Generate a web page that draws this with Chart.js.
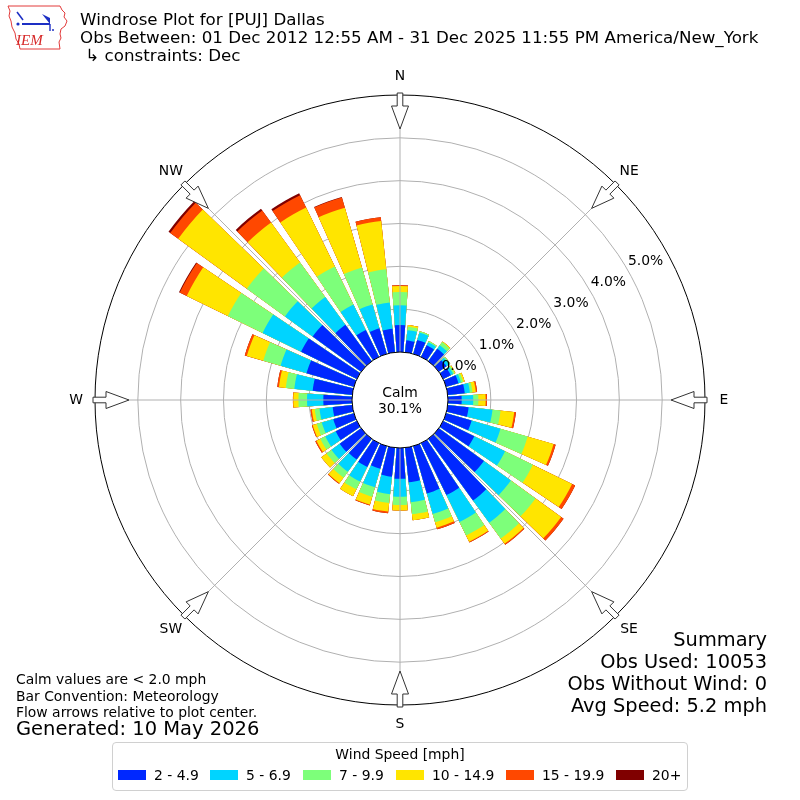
<!DOCTYPE html>
<html>
<head>
<meta charset="utf-8">
<script src="https://cdn.jsdelivr.net/npm/chart.js@4.4.1/dist/chart.umd.min.js"></script>
<style>
  body { margin: 0; background: #fff; }
  #wrap { position: relative; width: 800px; height: 800px; font-family: "DejaVu Sans", sans-serif; color: #000; overflow: hidden; }
  #wrap canvas { position: absolute; left: 0; top: 0; }
  .txt { position: absolute; white-space: pre; }
  #title { left: 80px; top: 10px; font-size: 16.7px; line-height: 18.2px; }
  #notes { left: 16px; top: 671px; font-size: 13.9px; line-height: 16.5px; }
  #generated { left: 16px; top: 717px; font-size: 19.5px; line-height: 23px; }
  #summary { right: 33px; top: 629px; font-size: 19.4px; line-height: 22px; text-align: right; }
  #legend { position: absolute; left: 112px; top: 742px; width: 574px; height: 47px; border: 1px solid #d0d0d0; border-radius: 4px; background: #fff; font-size: 13.9px; }
  #legend .ltitle { position: absolute; left: 0; right: 0; top: 3px; text-align: center; line-height: 16px; }
  #legend .sw { position: absolute; top: 27px; width: 28px; height: 10px; }
  #legend .lb { position: absolute; top: 24px; line-height: 16px; white-space: pre; }
  #logo { position: absolute; left: 4px; top: 3px; }
</style>
</head>
<body>
<div id="wrap">
  <canvas id="rose" width="800" height="800"></canvas>

  <svg id="logo" width="66" height="50" viewBox="0 0 66 50">
    <path d="M4 3 L56 3 L58 7 L61 10 L60 14 L63 18 L61 23 L57 26 L56 31 L57 35 L55 39 L56 46 L16 46 L15 41 L12 36 L11 30 L8 24 L7 18 L5 13 L6 8 Z"
          fill="none" stroke="#e23a3a" stroke-width="1"/>
    <line x1="13" y1="9" x2="19" y2="17" stroke="#1d2fc4" stroke-width="1.6"/>
    <circle cx="14" cy="21" r="1.6" fill="#1d2fc4"/>
    <line x1="18" y1="21" x2="46" y2="21" stroke="#1d2fc4" stroke-width="2"/>
    <path d="M38 11 L46 15 L46 21 Z" fill="#1d2fc4"/>
    <line x1="46" y1="21" x2="46" y2="28" stroke="#1d2fc4" stroke-width="1.4"/>
    <circle cx="49" cy="27" r="1" fill="#1d2fc4"/>
    <text x="12" y="42" font-family="Liberation Serif, serif" font-style="italic" font-size="15" fill="#d62828">IEM</text>
  </svg>

  <div class="txt" id="title">Windrose Plot for [PUJ] Dallas
Obs Between: 01 Dec 2012 12:55 AM - 31 Dec 2025 11:55 PM America/New_York
 ↳ constraints: Dec</div>

  <div class="txt" id="notes">Calm values are &lt; 2.0 mph
Bar Convention: Meteorology
Flow arrows relative to plot center.</div>
  <div class="txt" id="generated">Generated: 10 May 2026</div>

  <div class="txt" id="summary">Summary
Obs Used: 10053
Obs Without Wind: 0
Avg Speed: 5.2 mph</div>

  <div id="legend"><div class="ltitle">Wind Speed [mph]</div></div>
</div>

<script>
// direction of each bar, degrees clockwise from north
const DIRECTIONS = [0, 10, 20, 30, 40, 50, 60, 70, 80, 90, 100, 110, 120, 130, 140, 150, 160, 170,
  180, 190, 200, 210, 220, 230, 240, 250, 260, 270, 280, 290, 300, 310, 320, 330, 340, 350];

const SPEED_BINS = ["2 - 4.9", "5 - 6.9", "7 - 9.9", "10 - 14.9", "15 - 19.9", "20+"];
const BIN_COLORS = ["#0028ff", "#00d4ff", "#7dff7a", "#ffe500", "#ff4800", "#800000"];

// percent of observations per direction, one list per speed bin
const spd2 = [0.63, 0.28, 0.34, 0.30, 0.36, 0.22, 0.20, 0.30, 0.40, 0.32, 0.49, 0.62, 0.81, 1.30, 1.78, 1.35, 1.15, 0.81,
  0.72, 0.68, 0.55, 0.62, 0.60, 0.62, 0.55, 0.50, 0.46, 0.67, 0.93, 1.15, 1.45, 1.40, 1.05, 0.70, 0.62, 0.55];
const spd5 = [0.46, 0.24, 0.18, 0.08, 0.10, 0.08, 0.06, 0.06, 0.12, 0.27, 0.56, 0.70, 0.80, 0.78, 0.64, 0.70, 0.50, 0.47,
  0.42, 0.41, 0.45, 0.38, 0.35, 0.24, 0.27, 0.28, 0.31, 0.38, 0.43, 0.63, 1.00, 0.80, 0.80, 0.66, 0.58, 0.62];
const spd7 = [0.31, 0.08, 0.03, 0.03, 0.09, 0.03, 0.04, 0.05, 0.06, 0.12, 0.19, 0.66, 0.72, 0.71, 0.46, 0.35, 0.20, 0.28,
  0.19, 0.21, 0.23, 0.20, 0.17, 0.14, 0.13, 0.12, 0.11, 0.20, 0.20, 0.42, 0.90, 1.10, 1.00, 0.99, 0.90, 0.78];
const spd10 = [0.14, 0.04, 0, 0, 0.02, 0, 0.02, 0.04, 0.08, 0.17, 0.32, 0.63, 1.02, 0.74, 0.15, 0.16, 0.13, 0.14,
  0.13, 0.20, 0.19, 0.18, 0.16, 0.15, 0.10, 0.10, 0.07, 0.12, 0.16, 0.40, 1.07, 1.98, 1.15, 1.53, 1.45, 1.13];
const spd15 = [0.02, 0, 0, 0, 0, 0, 0, 0, 0.03, 0.03, 0.04, 0.05, 0.08, 0.07, 0.03, 0.02, 0.04, 0,
  0, 0.04, 0.02, 0, 0.02, 0, 0.03, 0.02, 0.03, 0.01, 0.04, 0.05, 0.18, 0.23, 0.35, 0.32, 0.25, 0.09];
const spd20 = [0, 0, 0, 0, 0, 0, 0, 0, 0, 0, 0, 0, 0, 0, 0, 0, 0, 0,
  0, 0, 0, 0, 0, 0, 0, 0, 0, 0, 0, 0, 0.02, 0.05, 0.05, 0.05, 0.01, 0];

const CALM_PCT = 30.1;
const RING_TICKS = [0, 1, 2, 3, 4, 5];
const COMPASS = ["N", "NE", "E", "SE", "S", "SW", "W", "NW"];

const BAR_DEG = 8;   // 80% of each 10 degree sector
const GAP_DEG = 2;
const R_MAX = 6;
const R_MIN = -1.12; // pushes 0% out to the edge of the calm circle

// stack: each dataset holds the running total, smaller totals drawn on top
const series = [spd2, spd5, spd7, spd10, spd15, spd20];
const running = DIRECTIONS.map(() => 0);
const stacked = series.map(s => s.map((v, i) => (running[i] += v)));

// every bar is followed by a thin empty slice that makes the gap
const sliceLabels = [];
DIRECTIONS.forEach(d => { sliceLabels.push(d + "°"); sliceLabels.push(""); });

const datasets = SPEED_BINS.map((name, k) => {
  const data = [];
  stacked[k].forEach(v => { data.push(v); data.push(0); });
  return {
    label: name,
    data: data,
    backgroundColor: ctx => (ctx.dataIndex % 2 ? "rgba(0,0,0,0)" : BIN_COLORS[k]),
    borderWidth: 0,
    angle: ctx => (ctx.dataIndex % 2 ? GAP_DEG : BAR_DEG)
  };
});

const rad = d => d * Math.PI / 180;

const roseDecor = {
  id: "roseDecor",
  afterDatasetsDraw(chart) {
    const s = chart.scales.r;
    const ctx = chart.ctx;
    ctx.save();
    ctx.strokeStyle = "#b0b0b0";
    ctx.lineWidth = 1;
    for (let a = 0; a < 360; a += 45) {
      ctx.beginPath();
      ctx.moveTo(s.xCenter, s.yCenter);
      ctx.lineTo(s.xCenter + s.drawingArea * Math.sin(rad(a)), s.yCenter - s.drawingArea * Math.cos(rad(a)));
      ctx.stroke();
    }
    ctx.restore();
  },
  afterDraw(chart) {
    const s = chart.scales.r;
    const ctx = chart.ctx;
    const cx = s.xCenter, cy = s.yCenter, R = s.drawingArea;
    ctx.save();

    // outer spine
    ctx.strokeStyle = "#000";
    ctx.lineWidth = 1;
    ctx.beginPath();
    ctx.arc(cx, cy, R, 0, 2 * Math.PI);
    ctx.stroke();

    // calm circle
    const r0 = s.getDistanceFromCenterForValue(0);
    ctx.beginPath();
    ctx.arc(cx, cy, r0, 0, 2 * Math.PI);
    ctx.fillStyle = "#fff";
    ctx.fill();
    ctx.stroke();

    ctx.fillStyle = "#000";
    ctx.font = '13.9px "DejaVu Sans"';
    ctx.textAlign = "center";
    ctx.textBaseline = "alphabetic";
    ctx.fillText("Calm", cx, cy - 3);
    ctx.fillText(CALM_PCT.toFixed(1) + "%", cx, cy + 12.7);

    // ring labels
    ctx.textBaseline = "middle";
    RING_TICKS.forEach(v => {
      const d = s.getDistanceFromCenterForValue(v) + 20;
      ctx.fillText(v.toFixed(1) + "%", cx + d * Math.sin(rad(60.5)), cy - d * Math.cos(rad(60.5)));
    });

    // compass names and inward arrows
    COMPASS.forEach((name, i) => {
      const a = rad(i * 45);
      const sa = Math.sin(a), ca = Math.cos(a);
      ctx.fillStyle = "#000";
      ctx.fillText(name, cx + (R + 19) * sa, cy - (R + 19) * ca);

      const pts = [[R + 2, -2.8], [R - 11, -2.8], [R - 11, -8.5], [R - 34, 0], [R - 11, 8.5], [R - 11, 2.8], [R + 2, 2.8]];
      ctx.beginPath();
      pts.forEach(([u, w], j) => {
        const x = cx + u * sa + w * ca;
        const y = cy - u * ca + w * sa;
        if (j) ctx.lineTo(x, y); else ctx.moveTo(x, y);
      });
      ctx.closePath();
      ctx.fillStyle = "#fff";
      ctx.fill();
      ctx.strokeStyle = "#333";
      ctx.lineWidth = 1;
      ctx.stroke();
    });
    ctx.restore();
  }
};

Chart.defaults.font.family = "DejaVu Sans";

new Chart(document.getElementById("rose"), {
  type: "polarArea",
  data: { labels: sliceLabels, datasets: datasets },
  options: {
    responsive: false,
    animation: false,
    layout: { padding: 95 },
    plugins: { legend: { display: false }, tooltip: { enabled: false } },
    scales: {
      r: {
        type: "radialLinear",
        min: R_MIN,
        max: R_MAX,
        startAngle: -BAR_DEG / 2,
        ticks: { display: false, z: 1 },
        afterBuildTicks: scale => {
          scale.ticks = RING_TICKS.slice(1).map(v => ({ value: v }));
        },
        grid: { circular: true, color: "#b0b0b0", lineWidth: 1 },
        angleLines: { display: false },
        pointLabels: { display: false }
      }
    }
  },
  plugins: [roseDecor]
});

// legend below the rose
const SWATCH_X = [118, 210, 303, 396, 506, 616];
const legend = document.getElementById("legend");
SPEED_BINS.forEach((name, k) => {
  const sw = document.createElement("div");
  sw.className = "sw";
  sw.style.left = (SWATCH_X[k] - 113) + "px";
  sw.style.background = BIN_COLORS[k];
  legend.appendChild(sw);
  const lb = document.createElement("div");
  lb.className = "lb";
  lb.style.left = (SWATCH_X[k] - 113 + 36) + "px";
  lb.textContent = name;
  legend.appendChild(lb);
});
</script>
</body>
</html>
